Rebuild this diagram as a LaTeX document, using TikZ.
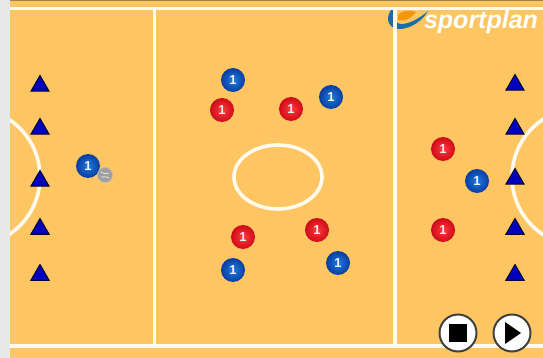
\documentclass[tikz,border=0pt]{standalone}
\usepackage{fontspec}
\setmainfont{Liberation Sans}
\definecolor{pitch}{RGB}{254,198,98}
\definecolor{sidegrey}{RGB}{232,232,232}
\definecolor{cone}{RGB}{0,0,190}
\definecolor{lineW}{RGB}{255,250,238}
\definecolor{bluein}{RGB}{30,125,225}
\definecolor{blueout}{RGB}{10,60,160}
\definecolor{redin}{RGB}{255,60,60}
\definecolor{redout}{RGB}{205,10,25}
\definecolor{logoblue}{RGB}{25,110,165}
\definecolor{logoorange}{RGB}{245,150,15}
\usetikzlibrary{shapes.geometric}
\tikzset{
  pitchline/.style={draw=lineW,line width=3.6pt},
  conemark/.style={regular polygon,regular polygon sides=3,draw=black!80!blue,line width=1pt,fill=cone,minimum size=21pt,inner sep=0pt},
  blueplayer/.style={circle,minimum size=24pt,inner sep=0pt,shade,shading=radial,inner color=bluein,outer color=blueout,text=white!90!gray,font=\bfseries\fontsize{13}{13}\selectfont},
  redplayer/.style={circle,minimum size=24pt,inner sep=0pt,shade,shading=radial,inner color=redin,outer color=redout,text=white!85!gray,font=\bfseries\fontsize{13}{13}\selectfont},
  ballmark/.style={circle,minimum size=15pt,inner sep=0pt,fill=gray!75,draw=gray!55,line width=0.6pt},
  ctrl/.style={circle,minimum size=37pt,inner sep=0pt,draw=black!75,line width=2pt,fill=white},
}
\begin{document}
\begin{tikzpicture}[x=1pt,y=-1pt]
\useasboundingbox (0,0) rectangle (543,358);
\fill[sidegrey] (0,0) rectangle (543,358);
\fill[pitch] (10,1) rectangle (543,358);
\fill[black!35!pitch] (10,0) rectangle (543,1.2);
\begin{scope}
\clip (10,0) rectangle (543,358);
\draw[pitchline] (-29,177) circle (69);
\draw[pitchline] (581,177) circle (69);
\end{scope}
% logo
\fill[logoorange] (398,15) .. controls (402,10) and (411,10) .. (416,12) .. controls (411,19) and (403,22) .. (398,20) -- cycle;
\fill[logoblue] (391,10) .. controls (384,20) and (390,30) .. (401,29) .. controls (412,28) and (423,20) .. (428,11) .. controls (420,18) and (410,24) .. (401,24) .. controls (394,23) and (392,18) .. (394,10) -- cycle;
\draw[pitchline] (10,8.5) -- (543,8.5);
\draw[pitchline] (10,346) -- (543,346);
\draw[pitchline] (154.5,8.5) -- (154.5,346);
\draw[pitchline] (395,8.5) -- (395,346);
\draw[pitchline] (278,177) ellipse (44 and 32);
\node[text=white,font=\bfseries\itshape\fontsize{25}{25}\selectfont,inner sep=0pt] (logo) at (481,22) {sportplan};
% cones
\foreach \n/\x/\y in {a/40/86,b/40/129,c/40/181,d/40/229,e/40/275,f/515/85,g/515/129,h/515/179,i/515/229,j/515/275}
  \node[conemark] (cone\n) at (\x,\y) {};
% players
\foreach \n/\x/\y in {a/233/80,b/331/97,c/88/166,d/477/181,e/233/270,f/338/263}
  \node[blueplayer] (blue\n) at (\x,\y) {1};
\foreach \n/\x/\y in {a/222/110,b/291/109,c/443/149,d/443/230,e/243/237,f/317/230}
  \node[redplayer] (red\n) at (\x,\y) {1};
\node[ballmark] (ball) at (105,175) {};
\draw[white!80!gray,line width=0.8pt] (101,172) .. controls (104,174) and (107,174) .. (109,173);
\draw[white!80!gray,line width=0.8pt] (101,177) .. controls (104,176) and (107,177) .. (109,178);
% controls
\node[ctrl] (stop) at (458,333) {};
\node[ctrl] (play) at (512,333) {};
\fill[black] (449,324) rectangle (467,342);
\fill[black] (505,322) -- (521,333) -- (505,344) -- cycle;
\end{tikzpicture}
\end{document}
